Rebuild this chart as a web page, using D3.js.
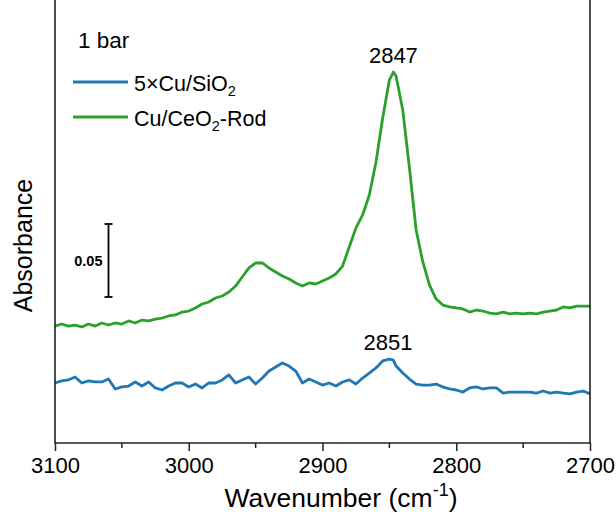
<!DOCTYPE html>
<html>
<head>
<meta charset="utf-8">
<script src="https://cdn.jsdelivr.net/npm/d3@7"></script>
<style>
  body { margin: 0; background: #fff; }
  svg { display: block; font-family: "Liberation Sans", Arial, sans-serif; }
</style>
</head>
<body>
<div id="chart"></div>
<script>
// wavenumbers (cm-1)
const wavenumbers = [
  3100, 3095, 3090, 3085, 3080, 3075, 3070, 3065, 3060, 3055,
  3050, 3045, 3040, 3035, 3030, 3025, 3020, 3015, 3010, 3005,
  3000, 2995, 2990, 2985, 2980, 2975, 2970, 2965, 2960, 2955,
  2950, 2945, 2940, 2935, 2930, 2925, 2920, 2915, 2910, 2905,
  2900, 2895, 2890, 2885, 2880, 2875, 2870, 2865, 2860, 2855,
  2850, 2847, 2845, 2840, 2835, 2830, 2825, 2820, 2815, 2810,
  2805, 2800, 2795, 2790, 2785, 2780, 2775, 2770, 2765, 2760,
  2755, 2750, 2745, 2740, 2735, 2730, 2725, 2720, 2715, 2710,
  2705, 2700
];

// 5xCu/SiO2 absorbance (offset as drawn)
const sio2Abs = [
  0.0411, 0.0425, 0.0432, 0.0452, 0.0411, 0.0425, 0.0418, 0.0418, 0.0438, 0.0370,
  0.0384, 0.0390, 0.0418, 0.0390, 0.0418, 0.0377, 0.0363, 0.0390, 0.0411, 0.0411,
  0.0384, 0.0404, 0.0377, 0.0411, 0.0411, 0.0432, 0.0466, 0.0411, 0.0432, 0.0452,
  0.0404, 0.0445, 0.0493, 0.0521, 0.0548, 0.0527, 0.0493, 0.0411, 0.0438, 0.0418,
  0.0397, 0.0411, 0.0390, 0.0418, 0.0432, 0.0404, 0.0445, 0.0479, 0.0514, 0.0562,
  0.0575, 0.0568, 0.0527, 0.0479, 0.0438, 0.0404, 0.0397, 0.0397, 0.0404, 0.0384,
  0.0370, 0.0363, 0.0349, 0.0377, 0.0384, 0.0370, 0.0377, 0.0377, 0.0342, 0.0349,
  0.0349, 0.0349, 0.0349, 0.0342, 0.0356, 0.0342, 0.0349, 0.0342, 0.0336, 0.0349,
  0.0356, 0.0336
];

// Cu/CeO2-Rod absorbance (offset as drawn)
const ceo2Abs = [
  0.0801, 0.0815, 0.0801, 0.0808, 0.0795, 0.0815, 0.0801, 0.0822, 0.0808, 0.0822,
  0.0815, 0.0836, 0.0822, 0.0842, 0.0836, 0.0849, 0.0856, 0.0870, 0.0877, 0.0897,
  0.0904, 0.0925, 0.0952, 0.0966, 0.0993, 0.1007, 0.1034, 0.1075, 0.1137, 0.1199,
  0.1233, 0.1233, 0.1199, 0.1171, 0.1144, 0.1123, 0.1096, 0.1075, 0.1096, 0.1089,
  0.1110, 0.1130, 0.1158, 0.1212, 0.1342, 0.1473, 0.1562, 0.1699, 0.1925, 0.2226,
  0.2486, 0.2541, 0.2514, 0.2281, 0.1884, 0.1459, 0.1240, 0.1082, 0.0986, 0.0945,
  0.0932, 0.0925, 0.0918, 0.0897, 0.0911, 0.0904, 0.0890, 0.0884, 0.0897, 0.0884,
  0.0890, 0.0884, 0.0890, 0.0884, 0.0897, 0.0904, 0.0911, 0.0932, 0.0925, 0.0938,
  0.0938, 0.0938
];

const seriesNames = ["5×Cu/SiO", "Cu/CeO"];
const seriesColors = ["#1f77b4", "#2ca02c"];
const xTicks = [3100, 3000, 2900, 2800, 2700];
const xMinorTicks = [3050, 2950, 2850, 2750];
const peakLabels = [
  { wn: 2847, text: "2847", series: 1 },
  { wn: 2851, text: "2851", series: 0 }
];
const scaleBar = { wn: 3060, from: 0.10, to: 0.15, label: "0.05" };

const width = 616, height = 515;
const margin = { top: 0, right: 26, bottom: 72, left: 55 };
const innerH = height - margin.bottom;

const svg = d3.select("#chart").append("svg")
  .attr("width", width)
  .attr("height", height)
  .attr("viewBox", [0, 0, width, height]);

const x = d3.scaleLinear()
  .domain([3100, 2700])
  .range([margin.left, width - margin.right]);

const y = d3.scaleLinear()
  .domain([0, 0.30])
  .range([innerH, 5]);

// lines
const line = d3.line()
  .x(d => x(d[0]))
  .y(d => y(d[1]));

const series = [sio2Abs, ceo2Abs].map(vals => wavenumbers.map((w, i) => [w, vals[i]]));

svg.append("g")
  .attr("fill", "none")
  .attr("stroke-width", 2.8)
  .attr("stroke-linejoin", "round")
  .selectAll("path")
  .data(series)
  .join("path")
  .attr("stroke", (d, i) => seriesColors[i])
  .attr("d", line);

// axes
const xAxis = svg.append("g")
  .attr("transform", `translate(0,${innerH})`)
  .call(d3.axisBottom(x).tickValues(xTicks).tickSize(8).tickPadding(6).tickFormat(d3.format("d")));
xAxis.select(".domain").remove();
xAxis.selectAll(".tick line").attr("stroke", "#222").attr("stroke-width", 1.5);
xAxis.selectAll("text").attr("font-size", 22).attr("fill", "#000")
  .attr("font-family", "Liberation Sans, Arial, sans-serif");

svg.append("g")
  .selectAll("line")
  .data(xMinorTicks)
  .join("line")
  .attr("x1", d => x(d)).attr("x2", d => x(d))
  .attr("y1", innerH).attr("y2", innerH + 5)
  .attr("stroke", "#222").attr("stroke-width", 1.5);

// frame: left, right, bottom
const frame = svg.append("g").attr("stroke", "#222").attr("stroke-width", 1.6);
frame.append("line").attr("x1", x(3100)).attr("x2", x(3100)).attr("y1", 0).attr("y2", innerH);
frame.append("line").attr("x1", x(2700)).attr("x2", x(2700)).attr("y1", 0).attr("y2", innerH);
frame.append("line").attr("x1", x(3100) - 0.8).attr("x2", x(2700) + 0.8).attr("y1", innerH).attr("y2", innerH);

// axis titles
const xt = svg.append("text")
  .attr("x", 341)
  .attr("y", 507)
  .attr("text-anchor", "middle")
  .attr("font-size", 26.5);
xt.append("tspan").text("Wavenumber (cm");
xt.append("tspan").attr("font-size", 18).attr("dy", -11).text("-1");
xt.append("tspan").attr("dy", 11).text(")");

svg.append("text")
  .attr("transform", `translate(32,${innerH / 2 + 24}) rotate(-90)`)
  .attr("text-anchor", "middle")
  .attr("font-size", 25)
  .text("Absorbance");

// legend
svg.append("text").attr("x", 78).attr("y", 48).attr("font-size", 22.5).text("1 bar");
const legend = svg.append("g");
const legendY = [82, 117];
seriesNames.forEach((name, i) => {
  legend.append("line")
    .attr("x1", 73).attr("x2", 128)
    .attr("y1", legendY[i]).attr("y2", legendY[i])
    .attr("stroke", seriesColors[i]).attr("stroke-width", 2.8);
  const t = legend.append("text")
    .attr("x", 134).attr("y", legendY[i] + 9)
    .attr("font-size", 21.5);
  t.append("tspan").text(name);
  t.append("tspan").attr("font-size", 14.5).attr("dy", 5).text("2");
  if (i === 1) t.append("tspan").attr("dy", -5).text("-Rod");
});

// peak labels
svg.append("g")
  .selectAll("text")
  .data(peakLabels)
  .join("text")
  .attr("x", d => x(d.wn))
  .attr("y", d => d.series === 1 ? 63 : 350)
  .attr("text-anchor", "middle")
  .attr("font-size", 22)
  .text(d => d.text);

// scale bar
const sb = svg.append("g").attr("stroke", "#000").attr("stroke-width", 1.8);
sb.append("line").attr("x1", x(scaleBar.wn)).attr("x2", x(scaleBar.wn))
  .attr("y1", y(scaleBar.from)).attr("y2", y(scaleBar.to));
[scaleBar.from, scaleBar.to].forEach(v => {
  sb.append("line").attr("x1", x(scaleBar.wn) - 4).attr("x2", x(scaleBar.wn) + 4)
    .attr("y1", y(v)).attr("y2", y(v));
});
svg.append("text")
  .attr("x", x(scaleBar.wn) - 6)
  .attr("y", (y(scaleBar.from) + y(scaleBar.to)) / 2 + 5)
  .attr("text-anchor", "end")
  .attr("font-size", 14.5)
  .attr("font-weight", "bold")
  .text(scaleBar.label);
</script>
</body>
</html>
